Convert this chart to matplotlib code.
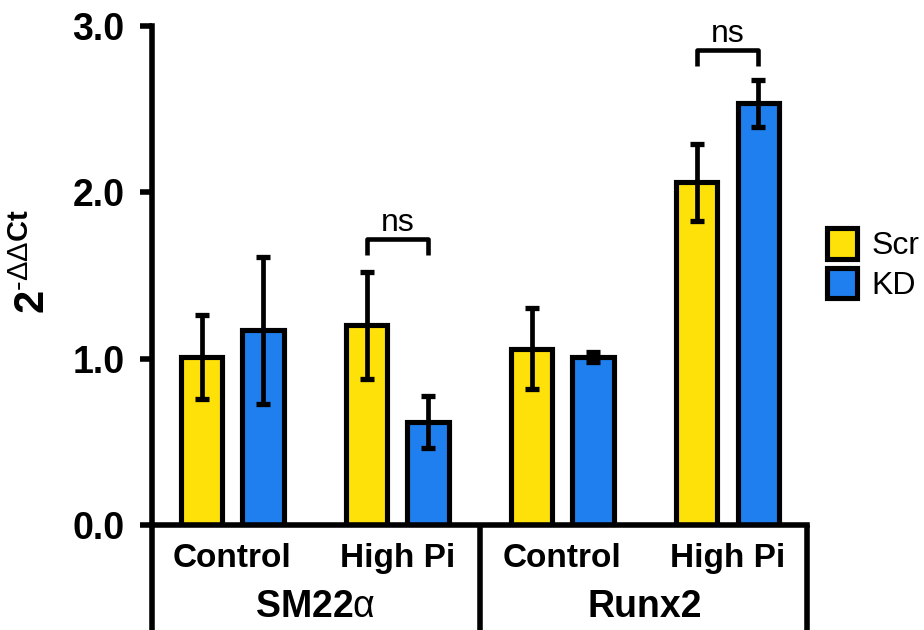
import matplotlib
matplotlib.use("Agg")
import matplotlib.pyplot as plt
import matplotlib.transforms as mtransforms
import numpy as np

plt.rcParams["font.family"] = ["Liberation Sans", "DejaVu Sans"]
plt.rcParams["mathtext.fontset"] = "custom"
plt.rcParams["mathtext.rm"] = "Liberation Sans"
plt.rcParams["mathtext.bf"] = "Liberation Sans:bold"

# ---------------------------------------------------------------------------
# Dados
# ---------------------------------------------------------------------------
conditions = ["Control", "High Pi", "Control", "High Pi"]
genes = [r"SM22$\mathrm{\alpha}$", "Runx2"]
series = ["Scr", "KD"]

scr_mean = [1.01, 1.20, 1.06, 2.06]
scr_err = [0.25, 0.32, 0.245, 0.23]
kd_mean = [1.17, 0.62, 1.01, 2.535]
kd_err = [0.44, 0.155, 0.03, 0.14]

# pares com "ns": (indice da condicao, altura do colchete)
ns_pairs = [(1, 1.72), (3, 2.855)]

yticks = [0.0, 1.0, 2.0, 3.0]

YELLOW = "#FFE10A"
BLUE = "#1F7FEE"

# ---------------------------------------------------------------------------
fig = plt.figure(figsize=(9.24, 6.3), dpi=100)
ax = fig.add_axes([0.164, 0.1667, 0.709, 0.792])

x = np.arange(len(conditions))
off = 0.186
w = 0.25
lw = 3.7

b1 = ax.bar(x - off, scr_mean, w, color=YELLOW, edgecolor="black",
            linewidth=lw, label=series[0], zorder=2)
b2 = ax.bar(x + off, kd_mean, w, color=BLUE, edgecolor="black",
            linewidth=lw, label=series[1], zorder=2)
ax.errorbar(x - off, scr_mean, yerr=scr_err, fmt="none", ecolor="black",
            elinewidth=3.4, capsize=4.7, capthick=3.8, zorder=3)
ax.errorbar(x + off, kd_mean, yerr=kd_err, fmt="none", ecolor="black",
            elinewidth=3.4, capsize=4.7, capthick=3.8, zorder=3)

xl, xr = -0.49, 3.48
ax.set_xlim(xl, xr)
ax.set_ylim(0, 3.0)

for s in ["top", "right"]:
    ax.spines[s].set_visible(False)
for s in ["left", "bottom"]:
    ax.spines[s].set_linewidth(4)

ax.set_xticks([])
ax.set_yticks(yticks)
ax.set_yticklabels([f"{v:.1f}" for v in yticks], fontsize=27, fontweight="bold")
ax.tick_params(axis="y", length=8.6, width=4, pad=11)

# colchetes "ns"
for i, h in ns_pairs:
    xa, xb = i - off, i + off
    ax.plot([xa, xa, xb, xb], [h - 0.095, h, h, h - 0.095], color="black",
            lw=3.3, solid_capstyle="butt", zorder=3)
    ax.text(i, h + 0.05, "ns", ha="center", va="baseline", fontsize=23)

# caixa inferior com rotulos
trans = mtransforms.blended_transform_factory(ax.transData, ax.transAxes)
for xv in [xl, 1.5, xr]:
    ax.plot([xv, xv], [0, -0.3], color="black", lw=4, transform=trans,
            clip_on=False, solid_capstyle="butt")
for xi, lab in zip(x, conditions):
    ax.text(xi, -0.084, lab, transform=trans, ha="center", va="baseline",
            fontsize=24, fontweight="bold")
for xi, g in zip([0.5, 2.5], genes):
    ax.text(xi, -0.184, g, transform=trans, ha="center", va="baseline",
            fontsize=27, fontweight="bold")

# rotulo do eixo y
fig.text(0.037, 0.585, r"$\mathbf{2}^{\text{-}\Delta\Delta\mathbf{Ct}}$",
         rotation=90, ha="center", va="center", fontsize=30)

fig.legend(handles=[b1, b2], labels=series, loc="upper left",
           bbox_to_anchor=(0.895, 0.638), frameon=False, fontsize=23,
           handlelength=0.95, handleheight=1.1, handletextpad=0.45,
           labelspacing=0.2, borderpad=0, borderaxespad=0)

fig.savefig("out.png", dpi=100)
plt.close(fig)
